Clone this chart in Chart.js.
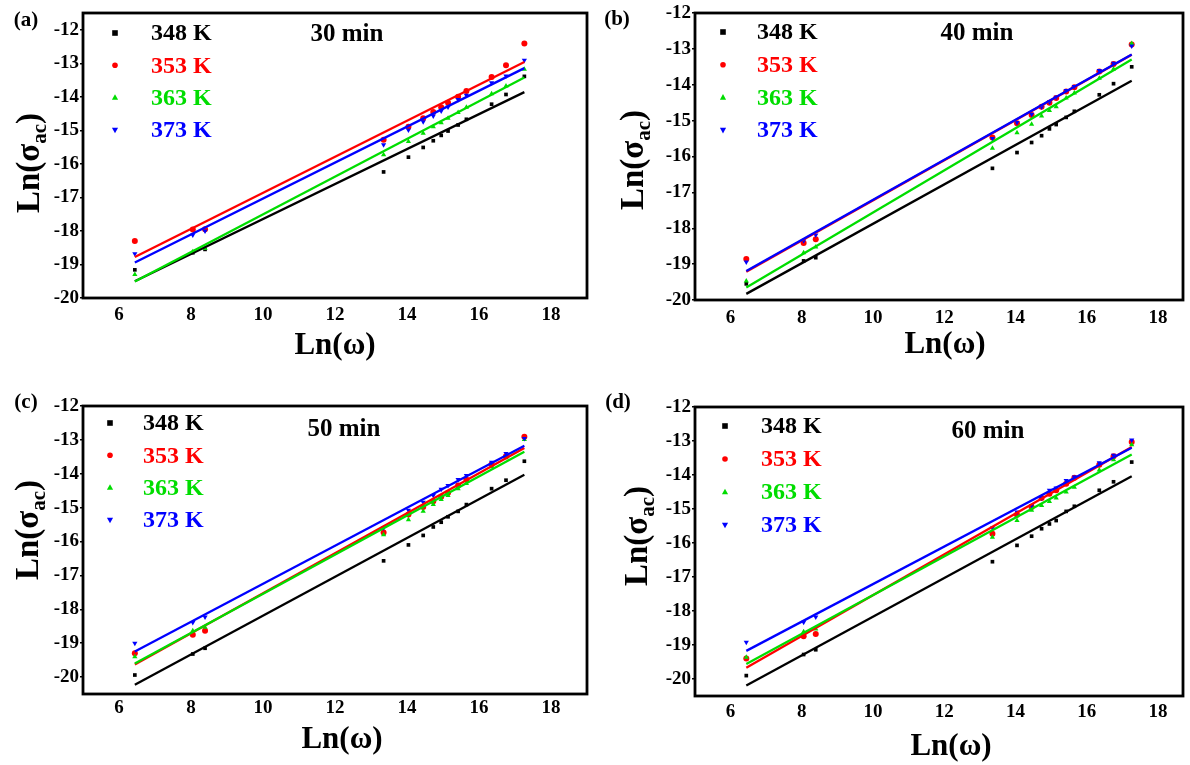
<!DOCTYPE html>
<html>
<head>
<meta charset="utf-8">
<script src="https://cdn.jsdelivr.net/npm/chart.js@4/dist/chart.umd.min.js"></script>
<style>
  html, body { margin: 0; padding: 0; background: #ffffff; }
  #wrap { position: relative; width: 1190px; height: 765px; background: #fff; }
  canvas { position: absolute; }
</style>
</head>
<body>
<div id="wrap">
  <canvas id="c0" width="595" height="382" style="left:0;top:0"></canvas>
  <canvas id="c1" width="595" height="382" style="left:595px;top:0"></canvas>
  <canvas id="c2" width="595" height="383" style="left:0;top:382px"></canvas>
  <canvas id="c3" width="595" height="383" style="left:595px;top:382px"></canvas>
</div>
<script>
// ---------- data ----------
const lnOmega = [6.44, 8.05, 8.39, 13.35, 14.04, 14.45, 14.73, 14.95, 15.14, 15.42, 15.65, 16.35, 16.75, 17.26];
const temperatures = ['348 K', '353 K', '363 K', '373 K'];
const panelLetters = ['(a)', '(b)', '(c)', '(d)'];
const panelTitles = ['30 min', '40 min', '50 min', '60 min'];
const xTickValues = [6, 8, 10, 12, 14, 16, 18];
const yTickValues = [-20, -19, -18, -17, -16, -15, -14, -13, -12];

// 30 min
const a348 = [-19.16, -18.65, -18.55, -16.24, -15.80, -15.51, -15.31, -15.15, -15.02, -14.84, -14.67, -14.22, -13.93, -13.39];
const a353 = [-18.30, -17.96, -17.95, -15.28, -14.89, -14.64, -14.45, -14.31, -14.18, -14.00, -13.83, -13.41, -13.06, -12.41];
const a363 = [-19.30, -18.62, -18.52, -15.73, -15.33, -15.09, -14.89, -14.77, -14.64, -14.47, -14.31, -13.91, -13.68, -13.18];
const a373 = [-18.68, -18.12, -18.00, -15.43, -14.99, -14.74, -14.57, -14.42, -14.30, -14.08, -13.95, -13.58, -13.38, -12.91];
// 40 min
const b348 = [-19.55, -18.91, -18.82, -16.33, -15.89, -15.61, -15.42, -15.23, -15.11, -14.91, -14.74, -14.28, -13.97, -13.50];
const b353 = [-18.86, -18.41, -18.31, -15.47, -15.07, -14.84, -14.61, -14.50, -14.37, -14.19, -14.07, -13.63, -13.42, -12.88];
const b363 = [-19.47, -18.68, -18.52, -15.77, -15.34, -15.10, -14.87, -14.72, -14.61, -14.37, -14.23, -13.82, -13.56, -12.85];
const b373 = [-18.94, -18.35, -18.19, -15.50, -15.05, -14.82, -14.62, -14.48, -14.35, -14.16, -14.05, -13.60, -13.40, -12.92];
// 50 min
const c348 = [-19.94, -19.32, -19.15, -16.57, -16.10, -15.82, -15.57, -15.43, -15.27, -15.11, -14.91, -14.44, -14.19, -13.63];
const c353 = [-19.30, -18.75, -18.63, -15.73, -15.20, -14.98, -14.81, -14.68, -14.56, -14.35, -14.17, -13.72, -13.48, -12.91];
const c363 = [-19.40, -18.63, -18.53, -15.80, -15.36, -15.11, -14.91, -14.76, -14.64, -14.44, -14.29, -13.79, -13.53, -12.99];
const c373 = [-19.00, -18.39, -18.23, -15.60, -15.08, -14.84, -14.64, -14.46, -14.35, -14.17, -14.05, -13.66, -13.40, -12.96];
// 60 min
const d348 = [-19.90, -19.28, -19.14, -16.55, -16.07, -15.80, -15.58, -15.44, -15.34, -15.07, -14.92, -14.45, -14.20, -13.62];
const d353 = [-19.40, -18.74, -18.68, -15.73, -15.17, -14.94, -14.68, -14.55, -14.45, -14.26, -14.08, -13.70, -13.45, -13.03];
const d363 = [-19.36, -18.61, -18.53, -15.83, -15.34, -15.04, -14.90, -14.78, -14.68, -14.50, -14.36, -13.85, -13.55, -13.11];
const d373 = [-18.92, -18.33, -18.18, -15.56, -15.09, -14.90, -14.68, -14.45, -14.38, -14.16, -14.06, -13.64, -13.42, -12.97];

const panelSeries = [
  [a348, a353, a363, a373],
  [b348, b353, b363, b373],
  [c348, c353, c363, c373],
  [d348, d353, d363, d373]
];

// ---------- style / layout ----------
const colors = ['#000000', '#ff0000', '#00dd00', '#0000ff'];
const shapes = ['rect', 'circle', 'triangle', 'triangleDown'];
const FONT = "'Liberation Serif', 'Times New Roman', serif";
const layouts = [
  {w:595, h:382, area:[83,13,587,298], xMax:19, yMin:-20, yMax:-11.5, xPad:6,
   legend:{mx:115, tx:151, y0:33, dy:32.3}, title:{x:347,y:34}, letter:{x:26,y:21}, yTitle:{x:28,y:163}, xTitle:{x:335,y:346}},
  {w:595, h:382, area:[100,13,588,300], xMax:18.7, yMin:-20, yMax:-12, xPad:7,
   legend:{mx:128, tx:162, y0:32, dy:32.7}, title:{x:382,y:33}, letter:{x:22,y:20}, yTitle:{x:37,y:160}, xTitle:{x:350,y:345}},
  {w:595, h:383, area:[83,24,587,312], xMax:19, yMin:-20.5, yMax:-12, xPad:3,
   legend:{mx:110, tx:143, y0:41, dy:32.3}, title:{x:344,y:47}, letter:{x:26,y:21}, yTitle:{x:27,y:148}, xTitle:{x:342,y:358}},
  {w:595, h:383, area:[100,25,588,314], xMax:18.7, yMin:-20.5, yMax:-12, xPad:5,
   legend:{mx:130, tx:166, y0:44, dy:33}, title:{x:393,y:49}, letter:{x:23,y:21}, yTitle:{x:41,y:154}, xTitle:{x:356,y:365}}
];
const Y_W = 40, X_H = 30;

function linFit(xs, ys) {
  const n = xs.length;
  const mx = xs.reduce((s, v) => s + v, 0) / n;
  const my = ys.reduce((s, v) => s + v, 0) / n;
  let sxy = 0, sxx = 0;
  for (let i = 0; i < n; i++) { sxy += (xs[i] - mx) * (ys[i] - my); sxx += (xs[i] - mx) ** 2; }
  const b = sxy / sxx;
  return { a: my - b * mx, b };
}

function drawMarker(ctx, shape, x, y, r, color) {
  ctx.save();
  ctx.fillStyle = color;
  ctx.beginPath();
  if (shape === 'rect') {
    ctx.rect(x - r, y - r, 2 * r, 2 * r);
  } else if (shape === 'circle') {
    ctx.arc(x, y, r, 0, Math.PI * 2);
  } else if (shape === 'triangle') {
    ctx.moveTo(x, y - r * 1.2); ctx.lineTo(x + r * 1.1, y + r * 0.8); ctx.lineTo(x - r * 1.1, y + r * 0.8); ctx.closePath();
  } else {
    ctx.moveTo(x, y + r * 1.2); ctx.lineTo(x + r * 1.1, y - r * 0.8); ctx.lineTo(x - r * 1.1, y - r * 0.8); ctx.closePath();
  }
  ctx.fill();
  ctx.restore();
}

const decorPlugin = {
  id: 'decor',
  afterDraw(chart) {
    const L = chart.options.plugins.decor.layout;
    const idx = chart.options.plugins.decor.index;
    const ctx = chart.ctx;
    const ca = chart.chartArea;
    ctx.save();
    // frame
    ctx.strokeStyle = '#000';
    ctx.lineWidth = 2.8;
    ctx.strokeRect(ca.left, ca.top, ca.right - ca.left, ca.bottom - ca.top);
    // legend
    ctx.textBaseline = 'middle';
    ctx.textAlign = 'left';
    ctx.font = 'bold 24px ' + FONT;
    temperatures.forEach((t, k) => {
      const y = L.legend.y0 + k * L.legend.dy;
      drawMarker(ctx, shapes[k], L.legend.mx, y, 2.8, colors[k]);
      ctx.fillStyle = colors[k];
      ctx.fillText(t, L.legend.tx, y + 1);
    });
    // panel title
    ctx.fillStyle = '#000';
    ctx.textAlign = 'center';
    ctx.font = 'bold 25px ' + FONT;
    ctx.fillText(panelTitles[idx], L.title.x, L.title.y + 1);
    // panel letter
    ctx.font = 'bold 21px ' + FONT;
    ctx.fillText(panelLetters[idx], L.letter.x, L.letter.y);
    // x axis title
    ctx.font = 'bold 31px ' + FONT;
    ctx.fillText('Ln(\u03C9)', L.xTitle.x, L.xTitle.y);
    // y axis title with subscript
    ctx.translate(L.yTitle.x, L.yTitle.y);
    ctx.rotate(-Math.PI / 2);
    const big = 'bold 33px ' + FONT, small = 'bold 21px ' + FONT;
    ctx.font = big; const w1 = ctx.measureText('Ln(\u03C3').width; const w3 = ctx.measureText(')').width;
    ctx.font = small; const w2 = ctx.measureText('ac').width;
    let x = -(w1 + w2 + w3) / 2;
    ctx.textAlign = 'left';
    ctx.textBaseline = 'alphabetic';
    ctx.font = big; ctx.fillText('Ln(\u03C3', x, 11); x += w1;
    ctx.font = small; ctx.fillText('ac', x, 18); x += w2;
    ctx.font = big; ctx.fillText(')', x, 11);
    ctx.restore();
  }
};

function makeChart(idx) {
  const L = layouts[idx];
  const series = panelSeries[idx];
  const datasets = [];
  series.forEach((ys, k) => {
    datasets.push({
      type: 'scatter',
      label: temperatures[k],
      data: lnOmega.map((x, i) => ({ x, y: ys[i] })),
      pointStyle: k === 3 ? 'triangle' : shapes[k],
      rotation: k === 3 ? 180 : 0,
      pointRadius: k === 0 ? 2.6 : 3.0,
      backgroundColor: colors[k],
      borderColor: colors[k],
      borderWidth: 0,
      order: 20 - k
    });
  });
  series.forEach((ys, k) => {
    const f = linFit(lnOmega, ys);
    const x0 = lnOmega[0], x1 = lnOmega[lnOmega.length - 1];
    datasets.push({
      type: 'line',
      label: temperatures[k] + ' fit',
      data: [{ x: x0, y: f.a + f.b * x0 }, { x: x1, y: f.a + f.b * x1 }],
      borderColor: colors[k],
      borderWidth: 2.3,
      pointRadius: 0,
      fill: false,
      order: 10 - k
    });
  });
  const [l, t, r, b] = L.area;
  new Chart(document.getElementById('c' + idx), {
    type: 'scatter',
    data: { datasets },
    options: {
      responsive: false,
      animation: false,
      events: [],
      layout: { padding: { left: l - Y_W, top: t, right: L.w - r, bottom: L.h - b - X_H } },
      plugins: { legend: { display: false }, tooltip: { enabled: false }, decor: { layout: L, index: idx } },
      scales: {
        x: {
          type: 'linear', min: 5, max: L.xMax,
          afterBuildTicks: s => { s.ticks = xTickValues.map(v => ({ value: v })); },
          afterFit: s => { s.height = X_H; },
          grid: { display: true, drawOnChartArea: false, drawTicks: false, color: '#000' },
          border: { display: false },
          ticks: { color: '#000', padding: L.xPad, maxRotation: 0, autoSkip: false, font: { family: FONT, size: 19, weight: 'bold' } }
        },
        y: {
          type: 'linear', min: L.yMin, max: L.yMax,
          afterBuildTicks: s => { s.ticks = yTickValues.map(v => ({ value: v })); },
          afterFit: s => { s.width = Y_W; },
          grid: { display: true, drawOnChartArea: false, drawTicks: true, tickLength: 3, color: '#000', lineWidth: 1.5 },
          border: { display: false },
          ticks: { color: '#000', padding: 1, autoSkip: false, font: { family: FONT, size: 19, weight: 'bold' } }
        }
      }
    },
    plugins: [decorPlugin]
  });
}
[0, 1, 2, 3].forEach(makeChart);
</script>
</body>
</html>
